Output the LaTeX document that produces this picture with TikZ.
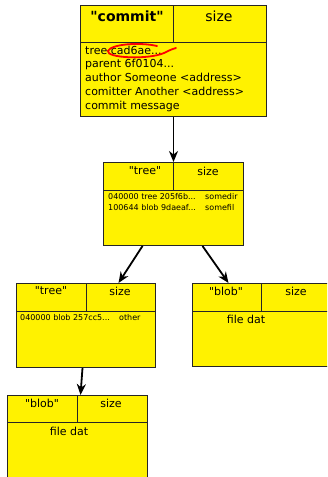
\documentclass[tikz,border=0pt]{standalone}
\usepackage{fontspec}
\newfontfamily\dv{DejaVu Sans}
\setmainfont{DejaVu Sans}
\usetikzlibrary{arrows.meta}
\begin{document}
\begin{tikzpicture}[x=1pt,y=-1pt,
  objbox/.style={draw=black!85,line width=1pt,fill=yellow,rectangle,inner sep=0pt,anchor=north west},
  sepline/.style={draw=black!85,line width=1pt},
  hdr/.style={inner sep=0pt,font=\dv\fontsize{11}{13}\selectfont},
  bighdr/.style={inner sep=0pt,font=\dv\fontsize{14}{16}\selectfont},
  body/.style={inner sep=0pt,anchor=north west,align=left,font=\dv\fontsize{11}{13.8}\selectfont},
  small/.style={inner sep=0pt,anchor=north west,align=left,font=\dv\fontsize{8}{11.5}\selectfont},
  link/.style={line width=1.8pt,-{Stealth[length=11pt,width=9pt,inset=3.5pt]}}]
\useasboundingbox (0,0) rectangle (327,477);
\clip (0,0) rectangle (327,477);
% commit
\node[objbox,minimum width=186pt,minimum height=111pt] (commit) at (80,5) {};
\draw[sepline] (80,42) -- (266,42);
\draw[sepline] (173,5) -- (173,42);
\node[bighdr,font=\dv\fontsize{14}{16}\selectfont\bfseries] (ct) at (127,16) {"commit"};
\node[bighdr] (cs) at (219,16) {size};
\node[body] (cb) at (85,45.5) {tree cad6ae...\\parent 6f0104...\\author Someone <address>\\comitter Another <address>\\commit message};
\draw[red,line width=1.8pt,line cap=round] (157,46) .. controls (140,42) and (111,44) .. (108,51) .. controls (106,58) and (148,60) .. (164,53) .. controls (168,51) and (172,49) .. (176,48);
% tree 1
\node[objbox,minimum width=140pt,minimum height=83pt] (tree1) at (103,162) {};
\draw[sepline] (103,190) -- (243,190);
\draw[sepline] (173,162) -- (173,190);
\node[hdr] (t1t) at (145,171) {"tree"};
\node[hdr] (t1s) at (208,171) {size};
\node[small] (t1a) at (108,193) {040000 tree 205f6b...\\100644 blob 9daeaf...};
\node[small] (t1b) at (205,193) {somedir\\somefil};
% tree 2
\node[objbox,minimum width=139pt,minimum height=84pt] (tree2) at (16,283) {};
\draw[sepline] (16,311) -- (155,311);
\draw[sepline] (86,283) -- (86,311);
\node[hdr] (t2t) at (51,291) {"tree"};
\node[hdr] (t2s) at (120,291) {size};
\node[small] (t2a) at (20,314) {040000 blob 257cc5...};
\node[small] (t2b) at (119,314) {other};
% blob 1
\node[objbox,minimum width=140pt,minimum height=83pt] (blob1) at (192,283) {};
\draw[sepline] (192,311) -- (332,311);
\draw[sepline] (261,283) -- (261,311);
\node[hdr] (b1t) at (226,291) {"blob"};
\node[hdr] (b1s) at (296,291) {size};
\node[hdr] (b1d) at (246,319) {file dat};
% blob 2
\node[objbox,minimum width=140pt,minimum height=100pt] (blob2) at (7,395) {};
\draw[sepline] (7,422) -- (147,422);
\draw[sepline] (77,395) -- (77,422);
\node[hdr] (b2t) at (42,403) {"blob"};
\node[hdr] (b2s) at (111,403) {size};
\node[hdr] (b2d) at (69,431) {file dat};
% links
\draw[link] (commit.south) -- (tree1.north);
\draw[link] ([xshift=-31pt]tree1.south) -- ([xshift=32.5pt]tree2.north);
\draw[link] ([xshift=29pt]tree1.south) -- ([xshift=-34pt]blob1.north);
\draw[link] ([xshift=-3.5pt]tree2.south) -- ([xshift=3pt]blob2.north);
\end{tikzpicture}
\end{document}
